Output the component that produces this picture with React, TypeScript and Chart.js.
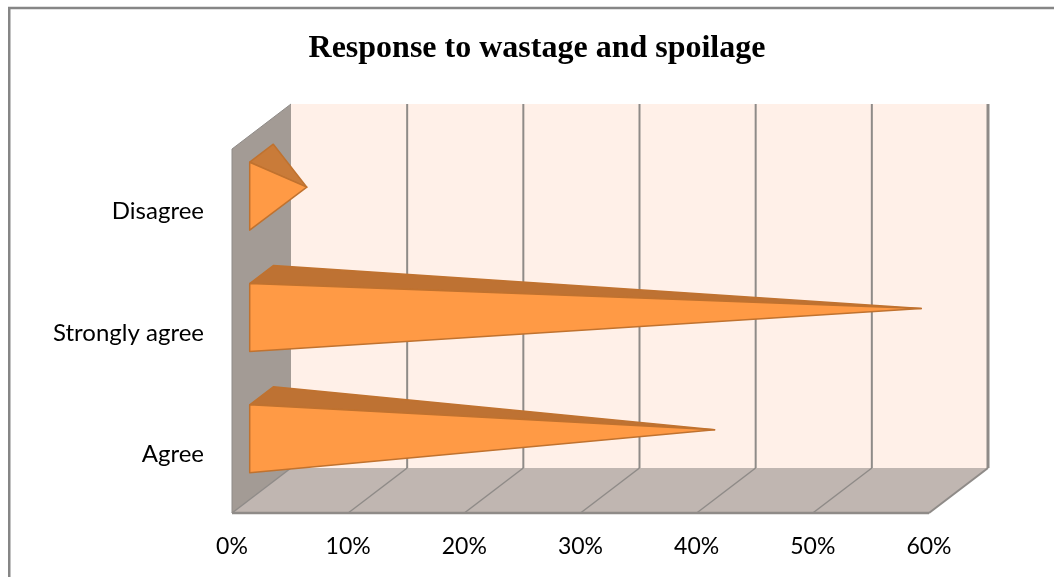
import React, { useEffect, useRef } from "react";
import { Chart, registerables } from "chart.js";

Chart.register(...registerables);

const TITLE = "Response to wastage and spoilage";
const categories = ["Disagree", "Strongly agree", "Agree"];
const responseShare = [3.9, 56.8, 39];
const topFaceColors = ["#C97B39", "#BE7233", "#BE7233"];
const AXIS_MAX = 60;
const AXIS_STEP = 10;

const DEPTH_X = 59;
const DEPTH_Y = -45;
const LINE = "#8F8B88";

const pyramid3d = {
  id: "pyramid3d",
  beforeDraw(chart: any) {
    const { ctx, width, height } = chart;
    ctx.save();
    ctx.fillStyle = "#ffffff";
    ctx.fillRect(0, 0, width, height);
    ctx.strokeStyle = "#868686";
    ctx.lineWidth = 2.5;
    ctx.beginPath();
    ctx.moveTo(9.25, height);
    ctx.lineTo(9.25, 8);
    ctx.lineTo(width, 8);
    ctx.stroke();
    ctx.restore();
  },
  beforeDatasetsDraw(chart: any) {
    const { ctx, chartArea: a, scales } = chart;
    const x = scales.x;
    const poly = (pts: number[][], fill: string) => {
      ctx.beginPath();
      pts.forEach((p, i) => (i ? ctx.lineTo(p[0], p[1]) : ctx.moveTo(p[0], p[1])));
      ctx.closePath();
      ctx.fillStyle = fill;
      ctx.fill();
    };
    const seg = (x0: number, y0: number, x1: number, y1: number, w: number) => {
      ctx.lineWidth = w;
      ctx.strokeStyle = LINE;
      ctx.beginPath();
      ctx.moveTo(x0, y0);
      ctx.lineTo(x1, y1);
      ctx.stroke();
    };
    const { left: l, right: r, top: t, bottom: b } = a;
    ctx.save();
    poly([[l + DEPTH_X, t + DEPTH_Y], [r + DEPTH_X, t + DEPTH_Y], [r + DEPTH_X, b + DEPTH_Y], [l + DEPTH_X, b + DEPTH_Y]], "#FFF0E8");
    poly([[l, t], [l + DEPTH_X, t + DEPTH_Y], [l + DEPTH_X, b + DEPTH_Y], [l, b]], "#A39B95");
    poly([[l, b], [l + DEPTH_X, b + DEPTH_Y], [r + DEPTH_X, b + DEPTH_Y], [r, b]], "#C0B6B1");
    seg(l, t, l + DEPTH_X, t + DEPTH_Y, 1);
    x.ticks.forEach((tick: any, i: number) => {
      const px = x.getPixelForValue(tick.value);
      const last = i === x.ticks.length - 1;
      if (i > 0) seg(px + DEPTH_X, t + DEPTH_Y, px + DEPTH_X, b + DEPTH_Y, last ? 3 : 2);
      seg(px, b, px + DEPTH_X, b + DEPTH_Y, last ? 2 : 1.5);
    });
    seg(l, b, r, b, 2.5);
    seg(l, t, l, b, 1);
    ctx.restore();
  },
  afterDatasetsDraw(chart: any) {
    const { ctx, scales } = chart;
    const zero = scales.x.getPixelForValue(0);
    const meta = chart.getDatasetMeta(0);
    ctx.save();
    ctx.lineJoin = "round";
    ctx.lineWidth = 1.5;
    meta.data.forEach((bar: any, i: number) => {
      const half = bar.height / 2;
      const cy = bar.y + DEPTH_Y / 2;
      const cx = zero + DEPTH_X / 2;
      const tipX = bar.x + DEPTH_X / 2;
      const fx = cx - DEPTH_X / 5;
      const fy = cy - DEPTH_Y / 5;
      const bx = cx + DEPTH_X / 5;
      const by = cy + DEPTH_Y / 5;
      const face = (pts: number[][], fill: string) => {
        ctx.beginPath();
        pts.forEach((p, k) => (k ? ctx.lineTo(p[0], p[1]) : ctx.moveTo(p[0], p[1])));
        ctx.closePath();
        ctx.fillStyle = fill;
        ctx.strokeStyle = "#C0722F";
        ctx.fill();
        ctx.stroke();
      };
      face([[fx, fy - half], [bx, by - half], [tipX, cy]], topFaceColors[i]);
      face([[fx, fy - half], [fx, fy + half], [tipX, cy]], "#FF9A45");
    });
    ctx.restore();
  },
};

export default function App() {
  const ref = useRef<HTMLCanvasElement | null>(null);
  useEffect(() => {
    const chart = new Chart(ref.current as HTMLCanvasElement, {
      type: "bar",
      data: {
        labels: categories,
        datasets: [
          {
            data: responseShare,
            backgroundColor: "rgba(0,0,0,0)",
            borderWidth: 0,
            barPercentage: 0.56,
            categoryPercentage: 1,
          },
        ],
      },
      options: {
        indexAxis: "y",
        responsive: false,
        animation: false,
        layout: { padding: { left: 20, right: 0, top: 0, bottom: 0 } },
        plugins: {
          legend: { display: false },
          tooltip: { enabled: false },
          title: {
            display: true,
            text: TITLE,
            color: "#000000",
            font: { family: "Liberation Serif", size: 32, weight: "bold" },
            padding: { top: 30, bottom: 80.6 },
          },
        },
        scales: {
          x: {
            min: 0,
            max: AXIS_MAX,
            grid: { display: false, drawTicks: false },
            border: { display: false },
            ticks: {
              stepSize: AXIS_STEP,
              color: "#000000",
              font: { family: "Lato", size: 23 },
              padding: 20,
              maxRotation: 0,
              callback: (v: any) => `${v}%`,
            },
            afterFit: (s: any) => {
              s.height = 64;
            },
          },
          y: {
            grid: { display: false, drawTicks: false },
            border: { display: false },
            ticks: { color: "#000000", font: { family: "Lato", size: 24 }, padding: 28, labelOffset: 2 },
            afterFit: (s: any) => {
              s.width = 212;
            },
          },
          rightGutter: {
            type: "linear",
            position: "right",
            grid: { display: false, drawTicks: false },
            border: { display: false },
            ticks: { display: false },
            afterFit: (s: any) => {
              s.width = 125;
            },
          },
        },
      },
      plugins: [pyramid3d],
    } as any);
    return () => chart.destroy();
  }, []);
  return (
    <div style={{ position: "absolute", left: 0, top: 0, width: 1054, height: 577 }}>
      <canvas ref={ref} width={1054} height={577} style={{ display: "block" }} />
    </div>
  );
}
